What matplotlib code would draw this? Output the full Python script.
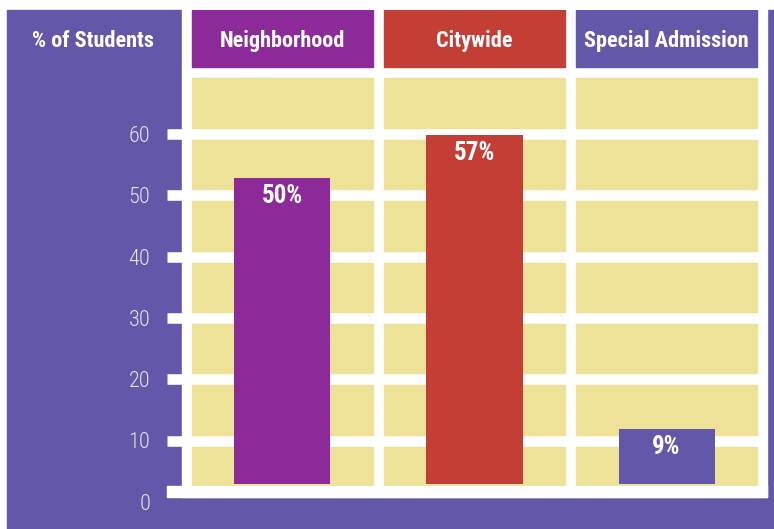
import matplotlib.pyplot as plt
from matplotlib.patches import Rectangle

categories = ['Neighborhood', 'Citywide', 'Special Admission']
shares = [50, 57, 9]
bar_labels = ['50%', '57%', '9%']
ytick_values = [0, 10, 20, 30, 40, 50, 60]

head_colors = ['#8B2A98', '#C33F35', '#6257A8']
bar_colors = ['#8B2A98', '#C33F35', '#6257A8']
panel = '#6257A8'
cell = '#EDE298'
light = '#E6E2F2'

plt.rcParams['font.family'] = ['Roboto Condensed', 'PT Sans Narrow', 'DejaVu Sans']

W, H = 774, 529
fig = plt.figure(figsize=(W / 100, H / 100), dpi=100)
fig.patch.set_facecolor('white')

# figure pixel helpers (top-down pixels)
def fx(px):
    return px / W

def fy(py):
    return 1 - py / H

# purple backdrop and white inner area
fig.patches.append(Rectangle((fx(7), 0), 1 - fx(7), fy(10), transform=fig.transFigure,
                             color=panel, zorder=-2, figure=fig))
fig.patches.append(Rectangle((fx(182), fy(497)), fx(767) - fx(182), 1 - fy(497),
                             transform=fig.transFigure, color='white', zorder=-1, figure=fig))

# y scale: 0 at 501.8 px, 6.13 px per unit
zero_px = 501.8
ppu = 6.13
def val(py):
    return (zero_px - py) / ppu

ax = fig.add_axes([fx(182), fy(zero_px), fx(767) - fx(182), fy(10) - fy(zero_px)])
ax.set_facecolor('none')
ax.set_xlim(-0.523, 2.523)
ax.set_ylim(0, val(10))

col_w = 181 / 192
base = val(484)
x = list(range(len(categories)))

for i in x:
    # yellow column
    ax.add_patch(Rectangle((i - col_w / 2, val(486)), col_w, val(78) - val(486),
                           color=cell, zorder=1))
    # header
    ax.add_patch(Rectangle((i - col_w / 2, val(67)), col_w, val(10) - val(67),
                           color=head_colors[i], zorder=1))
    ax.text(i, val(41), categories[i], color='white', fontsize=16, fontweight='bold',
            ha='center', va='center', zorder=5)

for v in ytick_values[1:]:
    ax.axhline(v, color='white', lw=7.6, zorder=2)

# bottom white border, sticking out to the left like the ticks
ax.add_patch(Rectangle((-0.6016, val(497)), 2.523 + 0.6016, val(486) - val(497),
                       color='white', zorder=4, clip_on=False))

ax.bar(x, shares, bottom=base, width=96 / 192, color=bar_colors, zorder=3)
for i in x:
    ax.annotate(bar_labels[i], (i, base + shares[i]), xytext=(0, -13),
                textcoords='offset points', ha='center', va='center',
                color='white', fontsize=18, fontweight='bold', zorder=5)

ax.set_xticks([])
ax.set_yticks(ytick_values)
ax.set_yticklabels([str(v) for v in ytick_values])
ax.tick_params(axis='y', direction='out', length=10.8, width=7.6, color='white',
               pad=12, labelsize=16, labelcolor=light)
for lab in ax.get_yticklabels():
    lab.set_fontweight('light')
ax.yaxis.get_major_ticks()[0].tick1line.set_visible(False)
for s in ax.spines.values():
    s.set_visible(False)

fig.text(fx(93), fy(41), '% of Students', color='white', fontsize=16, fontweight='bold',
         ha='center', va='center')

fig.savefig('out.png', dpi=100)
